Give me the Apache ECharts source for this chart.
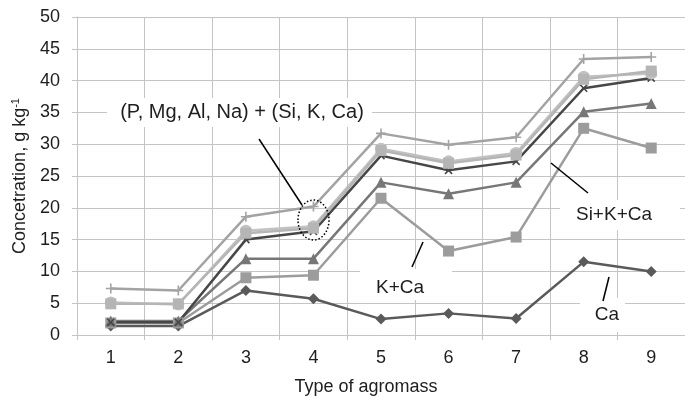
<!DOCTYPE html>
<html>
<head>
<meta charset="utf-8">
<script src="https://cdn.jsdelivr.net/npm/echarts@6/dist/echarts.min.js"></script>
<style>
html,body{margin:0;padding:0;background:#fff;}
#c{width:685px;height:401px;}
</style>
</head>
<body>
<div id="c"></div>
<script>
var categories = ['1','2','3','4','5','6','7','8','9'];
var yTicks = [0,5,10,15,20,25,30,35,40,45,50];
var ca      = [1.4, 1.4, 7.0, 5.7, 2.5, 3.4, 2.6, 11.5, 10.0];
var kCa     = [1.9, 1.9, 9.0, 9.4, 21.5, 13.2, 15.4, 32.5, 29.4];
var siKCa   = [2.2, 2.2, 12.0, 12.0, 24.0, 22.2, 24.0, 35.1, 36.4];
var naSiKCa = [2.0, 2.0, 15.0, 16.3, 28.2, 25.9, 27.3, 38.8, 40.4];
var alNaSiKCa = [5.1, 4.8, 16.4, 17.1, 29.3, 27.3, 28.6, 40.6, 41.1];
var mgAlNaSiKCa = [4.9, 4.9, 16.0, 16.8, 29.0, 27.0, 28.3, 40.2, 41.5];
var pMgAlNaSiKCa = [7.3, 7.0, 18.6, 20.2, 31.7, 29.9, 31.1, 43.4, 43.7];

var FONT = '"Liberation Sans", Arial, sans-serif';
var TXT = '#1e1e1e';
var GRID = '#c4c4c4';
var plusPath = 'path://M4.2,0H5.8V4.2H10V5.8H5.8V10H4.2V5.8H0V4.2H4.2Z';

function mk(name, data, color, symbol, size, extra) {
  var s = {
    name: name, type: 'line', data: data,
    symbol: symbol, symbolSize: size,
    lineStyle: {color: color, width: 2.5},
    itemStyle: {color: color},
    emphasis: {disabled: true},
    animation: false
  };
  if (extra) for (var k in extra) s[k] = extra[k];
  return s;
}

var chart = echarts.init(document.getElementById('c'), null, {renderer: 'canvas'});
chart.setOption({
  animation: false,
  grid: {left: 77, right: -9, top: 17, bottom: 65, containLabel: false},
  xAxis: {
    type: 'category', data: categories, boundaryGap: true,
    name: 'Type of agromass', nameLocation: 'middle', nameGap: 43,
    nameTextStyle: {fontFamily: FONT, fontSize: 18, color: TXT, padding: [0, 30, 0, 0]},
    axisLine: {show: true, lineStyle: {color: GRID, width: 1}},
    axisTick: {show: true, length: 5, alignWithLabel: false, lineStyle: {color: GRID}},
    axisLabel: {fontFamily: FONT, fontSize: 18, color: TXT, margin: 14},
    splitLine: {show: true, lineStyle: {color: GRID, width: 1}}
  },
  yAxis: {
    type: 'value', min: yTicks[0], max: yTicks[yTicks.length - 1], interval: 5,
    name: '{n|Concetration, g kg}{s|-1}', nameLocation: 'middle', nameGap: 47,
    nameTextStyle: {fontFamily: FONT, fontSize: 18, color: TXT,
      rich: {n: {fontFamily: FONT, fontSize: 18, color: TXT, lineHeight: 20},
             s: {fontFamily: FONT, fontSize: 11, color: TXT, verticalAlign: 'top', lineHeight: 11}}},
    axisLine: {show: true, lineStyle: {color: GRID, width: 1}},
    axisTick: {show: true, length: 5, lineStyle: {color: GRID}},
    axisLabel: {fontFamily: FONT, fontSize: 18, color: TXT, margin: 17},
    splitLine: {show: true, lineStyle: {color: GRID, width: 1}}
  },
  series: [
    mk('Ca', ca, '#5a5a5a', 'diamond', 11),
    mk('K+Ca', kCa, '#9c9c9c', 'rect', 11),
    mk('Si+K+Ca', siKCa, '#777777', 'triangle', 11),
    mk('Na+Si+K+Ca', naSiKCa, '#474747', plusPath, 10, {symbolRotate: 45}),
    mk('Al+Na+Si+K+Ca', alNaSiKCa, '#c2c2c2', 'circle', 12),
    mk('Mg+Al+Na+Si+K+Ca', mgAlNaSiKCa, '#b5b5b5', 'rect', 11),
    mk('P+Mg+Al+Na+Si+K+Ca', pMgAlNaSiKCa, '#a3a3a3', plusPath, 10)
  ],
  graphic: [
    {type: 'rect', z: 1, shape: {x: 107, y: 98, width: 265, height: 29}, style: {fill: '#fff'}},
    {type: 'text', z: 5, x: 242, y: 112, style: {text: '(P, Mg, Al, Na) + (Si, K, Ca)', font: '20px ' + FONT, fill: TXT, align: 'center', verticalAlign: 'middle'}},
    {type: 'line', z: 5, shape: {x1: 259, y1: 139, x2: 302, y2: 205}, style: {stroke: '#000', lineWidth: 1.5}},
    {type: 'ellipse', z: 5, shape: {cx: 313.5, cy: 220, rx: 15.5, ry: 20}, style: {stroke: '#000', fill: null, lineWidth: 1.5, lineDash: [1.5, 2]}},

    {type: 'rect', z: 1, shape: {x: 560, y: 200, width: 120, height: 30}, style: {fill: '#fff'}},
    {type: 'text', z: 5, x: 614, y: 215, style: {text: 'Si+K+Ca', font: '19px ' + FONT, fill: TXT, align: 'center', verticalAlign: 'middle'}},
    {type: 'line', z: 5, shape: {x1: 551, y1: 163, x2: 588, y2: 193}, style: {stroke: '#000', lineWidth: 1.5}},

    {type: 'rect', z: 1, shape: {x: 360, y: 269, width: 92, height: 31}, style: {fill: '#fff'}},
    {type: 'text', z: 5, x: 400, y: 288, style: {text: 'K+Ca', font: '19px ' + FONT, fill: TXT, align: 'center', verticalAlign: 'middle'}},
    {type: 'line', z: 5, shape: {x1: 423, y1: 242, x2: 412, y2: 267}, style: {stroke: '#000', lineWidth: 1.5}},

    {type: 'rect', z: 1, shape: {x: 580, y: 298, width: 45, height: 34}, style: {fill: '#fff'}},
    {type: 'text', z: 5, x: 607, y: 315, style: {text: 'Ca', font: '19px ' + FONT, fill: TXT, align: 'center', verticalAlign: 'middle'}},
    {type: 'line', z: 5, shape: {x1: 609, y1: 277, x2: 603, y2: 301}, style: {stroke: '#000', lineWidth: 1.5}}
  ]
});
</script>
</body>
</html>
